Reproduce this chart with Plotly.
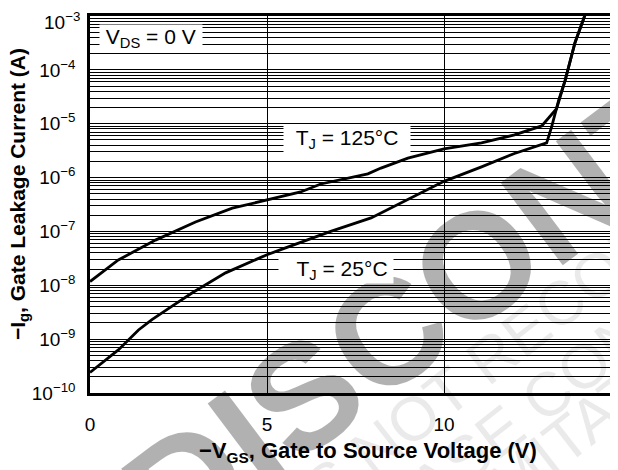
import plotly.graph_objects as go

# -VGS (V) and -Ig (A)
vgs_25 = [0, 0.8, 1.37, 1.75, 2.32, 2.88, 3.83, 4.68, 5.0, 5.39, 6.8, 7.94, 8.22,
          8.98, 10.0, 11.06, 11.99, 12.9, 13.04, 13.24, 13.42, 13.7, 14.0]
ig_25 = [2.4e-10, 6.3e-10, 1.48e-9, 2.3e-9, 4.1e-9, 7.2e-9, 1.7e-8, 2.95e-8, 3.7e-8,
         4.6e-8, 1.0e-7, 1.78e-7, 2.2e-7, 3.9e-7, 8.5e-7, 1.58e-6, 2.8e-6, 4.4e-6,
         8.7e-6, 2.75e-5, 6.3e-5, 3.2e-4, 1.12e-3]

vgs_125 = [0, 0.8, 1.85, 2.98, 4.02, 5.0, 5.95, 6.52, 7.85, 8.22, 8.98, 10.0, 11.06,
           11.99, 12.76, 13.18, 13.42, 13.7, 14.0]
ig_125 = [1.17e-8, 2.95e-8, 6.9e-8, 1.5e-7, 2.7e-7, 3.9e-7, 5.4e-7, 7.6e-7, 1.17e-6,
          1.5e-6, 2.3e-6, 3.4e-6, 4.4e-6, 6.2e-6, 9.1e-6, 1.9e-5, 6.3e-5, 3.2e-4, 1.12e-3]

x_ticks = [0, 5, 10]
x_ticklabels = ["0", "5", "10"]
x_last_tick = "15"
decades = [-10, -9, -8, -7, -6, -5, -4]
y_gridvals = [m * 10.0 ** d for d in decades for m in range(1, 10)] + [1e-3]
y_ticklabels = [("10<sup>\u2212%d</sup>" % -d) if m == 1 else ""
                for d in decades for m in range(1, 10)] + [""]
y_top_label = "10<sup>\u22123</sup>"

FONT = "Liberation Sans, Arial, Helvetica, sans-serif"
OFF = 8  # page body margin offset
W, H = 618, 470
L, T, B, R = 90 - OFF, 16 - OFF, 393 - OFF, 621 - OFF
PW, PH = R - L, B - T


def px(x):  # window pixel -> paper
    return (x - OFF - L) / PW


def py(y):
    return (B - (y - OFF)) / PH


fig = go.Figure()
fig.add_trace(go.Scatter(x=vgs_25, y=ig_25, mode="lines",
                         line=dict(color="black", width=2.8), showlegend=False))
fig.add_trace(go.Scatter(x=vgs_125, y=ig_125, mode="lines",
                         line=dict(color="black", width=2.8), showlegend=False))

ann = []
# watermark (semi-transparent black so the grid shows through, like the reference)
ann.append(dict(text="<b>DISCONTINUED</b>", xref="paper", yref="paper",
                x=px(600), y=py(172), showarrow=False,
                textangle=-37, font=dict(family=FONT, size=150, color="black"),
                opacity=0.3, xanchor="center", yanchor="middle"))
ann.append(dict(text="THIS DEVICE IS NOT RECOMMENDED FOR NEW DESIGN", xref="paper", yref="paper",
                x=px(646), y=py(236), showarrow=False,
                textangle=-38, font=dict(family=FONT, size=62, color="black"),
                opacity=0.08, xanchor="center", yanchor="middle"))
ann.append(dict(text="PLEASE CONTACT YOUR ON SEMICONDUCTOR REPRESENTATIVE", xref="paper", yref="paper",
                x=px(1112), y=py(-46), showarrow=False,
                textangle=-38, font=dict(family=FONT, size=62, color="black"),
                opacity=0.08, xanchor="center", yanchor="middle"))
ann.append(dict(text="LIMITATIONS", xref="paper", yref="paper",
                x=px(606), y=py(407), showarrow=False,
                textangle=-38, font=dict(family=FONT, size=62, color="black"),
                opacity=0.08, xanchor="center", yanchor="middle"))

# labels with white boxes
ann.append(dict(text="\u00a0V<sub>DS</sub> = 0 V\u00a0", xref="paper", yref="paper",
                x=px(151), y=py(38), showarrow=False,
                font=dict(family=FONT, size=21, color="black"), bgcolor="white",
                xanchor="center", yanchor="middle", borderpad=0))
ann.append(dict(text="\u00a0\u00a0T<sub>J</sub> = 125\u00b0C\u00a0\u00a0", xref="paper", yref="paper",
                x=px(347), y=py(139), showarrow=False,
                font=dict(family=FONT, size=21, color="black"), bgcolor="white",
                xanchor="center", yanchor="middle", borderpad=0))
ann.append(dict(text="\u00a0\u00a0\u00a0T<sub>J</sub> = 25\u00b0C\u00a0", xref="paper", yref="paper",
                x=px(336), y=py(270), showarrow=False,
                font=dict(family=FONT, size=21, color="black"), bgcolor="white",
                xanchor="center", yanchor="middle", borderpad=0))
# edge tick labels (kept inside the page)
ann.append(dict(text=x_last_tick, xref="paper", yref="paper",
                x=1.0, y=py(423), showarrow=False,
                font=dict(family=FONT, size=19, color="black"),
                xanchor="center", yanchor="middle"))
ann.append(dict(text=y_top_label, xref="paper", yref="paper",
                x=px(81), y=1.0 + T / PH, showarrow=False,
                font=dict(family=FONT, size=19, color="black"),
                xanchor="right", yanchor="top", borderpad=0))
# axis titles
ann.append(dict(text="<b>\u2212V<sub>GS</sub>, Gate to Source Voltage (V)</b>", xref="paper", yref="paper",
                x=px(368), y=py(452), showarrow=False,
                font=dict(family=FONT, size=22, color="black"),
                xanchor="center", yanchor="middle"))
ann.append(dict(text="<b>\u2212I<sub>g</sub>, Gate Leakage Current (A)</b>", xref="paper", yref="paper",
                x=px(19), y=py(194), showarrow=False, textangle=-90,
                font=dict(family=FONT, size=21, color="black"),
                xanchor="center", yanchor="middle"))

fig.update_layout(
    width=W, height=H,
    margin=dict(l=L, r=W - R, t=T, b=H - B, autoexpand=False),
    paper_bgcolor="white", plot_bgcolor="white",
    font=dict(family=FONT, color="black"),
    annotations=ann,
    xaxis=dict(range=[0, 15], tickvals=x_ticks, ticktext=x_ticklabels,
               showgrid=True, gridcolor="black", gridwidth=1,
               showline=True, linecolor="black", linewidth=2.5, mirror=True,
               ticks="", tickfont=dict(size=19, family=FONT), zeroline=False,
               ticklabelstandoff=12, automargin=False, ticklabeloverflow="allow"),
    yaxis=dict(type="log", range=[-10, -3], tickvals=y_gridvals, ticktext=y_ticklabels,
               showgrid=True, gridcolor="black", gridwidth=1,
               showline=True, linecolor="black", linewidth=2.5, mirror=True,
               ticks="", tickfont=dict(size=19, family=FONT), zeroline=False,
               ticklabelstandoff=8, automargin=False, ticklabeloverflow="allow"),
)

fig.write_html("out.html")
